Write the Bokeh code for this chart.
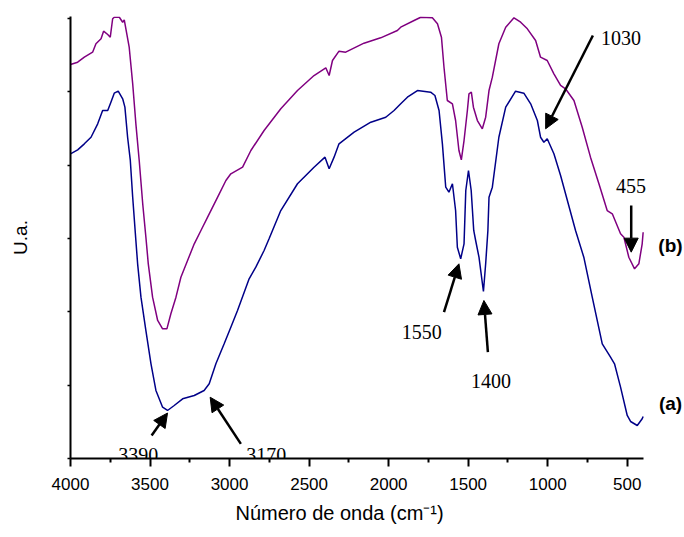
from bokeh.plotting import figure
from bokeh.models import Range1d, FixedTicker, Arrow, NormalHead, Label, CustomJSTickFormatter, Title
from bokeh.embed import file_html
from bokeh.resources import INLINE

# Curve (b) - purple
wn_b = [4000, 3955, 3913, 3861, 3840, 3808, 3792, 3766, 3750, 3735, 3725, 3693, 3672, 3662, 3631, 3609,
        3589, 3568, 3546, 3526, 3511, 3484, 3452, 3421, 3394, 3369, 3337, 3306, 3264, 3222, 3180, 3138,
        3075, 3023, 2992, 2918, 2866, 2783, 2678, 2573, 2469, 2395, 2374, 2353, 2312, 2270, 2155, 2050,
        1945, 1924, 1840, 1798, 1725, 1693, 1668, 1652, 1631, 1599, 1579, 1558, 1543, 1526, 1505, 1495,
        1480, 1467, 1442, 1411, 1390, 1369, 1348, 1307, 1264, 1212, 1170, 1128, 1076, 1045, 1003, 961,
        919, 888, 835, 783, 731, 678, 626, 594, 542, 521, 490, 454, 427, 406, 400]
ua_b = [5.375, 5.407, 5.475, 5.543, 5.658, 5.726, 5.830, 5.784, 5.748, 5.999, 6.020, 6.020, 5.952, 5.985,
        5.611, 5.112, 4.566, 4.066, 3.475, 3.019, 2.656, 2.201, 1.883, 1.769, 1.769, 1.974, 2.201, 2.473,
        2.701, 2.929, 3.111, 3.292, 3.565, 3.793, 3.884, 3.974, 4.202, 4.475, 4.771, 5.020, 5.225, 5.330,
        5.225, 5.430, 5.557, 5.543, 5.666, 5.739, 5.839, 5.884, 5.975, 6.020, 6.012, 5.930, 5.748, 5.338,
        4.884, 4.839, 4.611, 4.202, 4.075, 4.338, 4.748, 4.975, 4.997, 4.793, 4.611, 4.498, 4.656, 5.020,
        5.202, 5.658, 5.884, 6.012, 5.952, 5.862, 5.703, 5.475, 5.430, 5.248, 5.089, 5.044, 4.884, 4.520,
        4.111, 3.748, 3.383, 3.338, 3.065, 3.019, 2.746, 2.588, 2.656, 2.929, 3.087]

# Curve (a) - blue
wn_a = [4000, 3955, 3913, 3871, 3829, 3798, 3766, 3746, 3725, 3700, 3672, 3658, 3641, 3624, 3609, 3589,
        3578, 3557, 3526, 3494, 3463, 3421, 3390, 3348, 3295, 3222, 3160, 3128, 3086, 3034, 2992, 2950,
        2908, 2877, 2835, 2783, 2751, 2678, 2573, 2469, 2400, 2374, 2343, 2312, 2217, 2112, 2018, 1966,
        1924, 1882, 1819, 1736, 1709, 1683, 1662, 1641, 1621, 1599, 1579, 1568, 1547, 1526, 1515, 1498,
        1481, 1465, 1453, 1432, 1404, 1390, 1376, 1369, 1348, 1307, 1264, 1202, 1150, 1107, 1065, 1045,
        1024, 1003, 961, 919, 825, 773, 720, 657, 605, 580, 542, 500, 479, 437, 406, 400]
ua_a = [4.157, 4.211, 4.293, 4.383, 4.566, 4.748, 4.748, 4.861, 4.984, 5.011, 4.907, 4.793, 4.383, 4.066,
        3.565, 2.974, 2.656, 2.201, 1.746, 1.292, 0.928, 0.700, 0.655, 0.723, 0.814, 0.859, 0.928, 1.019,
        1.292, 1.565, 1.791, 2.019, 2.269, 2.452, 2.610, 2.838, 3.001, 3.383, 3.748, 3.974, 4.111, 3.952,
        4.111, 4.293, 4.452, 4.588, 4.656, 4.748, 4.839, 4.929, 5.020, 4.997, 4.952, 4.748, 4.293, 3.701,
        3.633, 3.748, 3.383, 2.883, 2.724, 2.929, 3.656, 3.929, 3.656, 3.111, 2.974, 2.746, 2.278, 2.656,
        3.111, 3.565, 3.701, 4.383, 4.793, 5.011, 4.984, 4.839, 4.611, 4.383, 4.315, 4.362, 4.157, 3.861,
        3.111, 2.746, 2.201, 1.565, 1.382, 1.292, 0.973, 0.587, 0.505, 0.450, 0.542, 0.573]

x_ticks = [4000, 3500, 3000, 2500, 2000, 1500, 1000, 500]
x_minor = [3750, 3250, 2750, 2250, 1750, 1250, 750]
y_ticks = [0, 1, 2, 3, 4, 5, 6]

peak_labels = ["3390", "3170", "1550", "1400", "1030", "455"]
label_x = [3574, 2769, 1792, 1356, 539, 476]
label_y = [0.041, 0.041, 1.723, 1.055, 5.730, 3.724]
arrow_x0 = [3490, 2929, 1652, 1376, 716, 475]
arrow_y0 = [0.314, 0.200, 1.996, 1.450, 5.771, 3.452]
arrow_x1 = [3390, 3122, 1558, 1401, 1013, 475]
arrow_y1 = [0.620, 0.836, 2.656, 2.156, 4.498, 2.815]

series_names = ["(a)", "(b)"]
series_label_x = [228, 228]
series_label_y = [0.746, 2.906]

p = figure(width=684, height=537, x_range=Range1d(4000, 140), y_range=Range1d(0, 6.03),
           output_backend="svg", toolbar_location=None,
           min_border_left=70, min_border_right=0, min_border_top=16, min_border_bottom=79)
p.outline_line_color = None
p.xgrid.visible = False
p.ygrid.visible = False

p.line(wn_b, ua_b, line_color="#800080", line_width=1.5)
p.line(wn_a, ua_a, line_color="#000088", line_width=1.5)

xa = p.xaxis[0]
xa.bounds = (400, 4000)
xa.ticker = FixedTicker(ticks=x_ticks, minor_ticks=x_minor)
xa.axis_line_width = 2
xa.axis_line_color = "black"
xa.major_tick_line_width = 2
xa.major_tick_line_color = "black"
xa.major_tick_out = 8
xa.major_tick_in = 0
xa.minor_tick_line_width = 2
xa.minor_tick_line_color = "black"
xa.minor_tick_out = 4
xa.minor_tick_in = 0
xa.major_label_text_font = "Liberation Sans"
xa.major_label_text_font_size = "17px"
xa.major_label_text_color = "black"
xa.major_label_standoff = 11

ya = p.yaxis[0]
ya.ticker = FixedTicker(ticks=y_ticks, minor_ticks=[])
ya.axis_line_width = 2
ya.axis_line_color = "black"
ya.major_tick_line_width = 1.5
ya.major_tick_line_color = "black"
ya.major_tick_out = 3
ya.major_tick_in = 0
ya.minor_tick_out = 0
ya.minor_tick_in = 0
ya.formatter = CustomJSTickFormatter(code="return ''")
ya.major_label_standoff = 0
ya.axis_label = "U.a."
ya.axis_label_text_font = "Liberation Sans"
ya.axis_label_text_font_size = "19px"
ya.axis_label_text_font_style = "normal"
ya.axis_label_text_color = "black"
ya.axis_label_standoff = 37

# x-axis title, placed under the axis as in the reference (slightly left of the frame centre)
p.add_layout(Title(text="Número de onda (cm⁻¹)", align="left", offset=165, standoff=15,
                   text_font="Liberation Sans", text_font_size="20px", text_font_style="normal",
                   text_color="black"), "below")

for x0, y0, x1, y1 in zip(arrow_x0, arrow_y0, arrow_x1, arrow_y1):
    p.add_layout(Arrow(end=NormalHead(size=14, fill_color="black", line_color="black", line_width=1),
                       x_start=x0, y_start=y0, x_end=x1, y_end=y1,
                       line_color="black", line_width=2.5))

for name, lx, ly in zip(peak_labels, label_x, label_y):
    p.add_layout(Label(x=lx, y=ly, text=name, text_font="Liberation Serif",
                       text_font_size="20px", text_align="center", text_baseline="alphabetic",
                       text_color="black"))

for name, sx, sy in zip(series_names, series_label_x, series_label_y):
    p.add_layout(Label(x=sx, y=sy, text=name, text_font="Liberation Sans", text_font_style="bold",
                       text_font_size="19px", text_align="center", text_baseline="middle",
                       text_color="black"))

open("out.html", "w").write(file_html(p, INLINE))
